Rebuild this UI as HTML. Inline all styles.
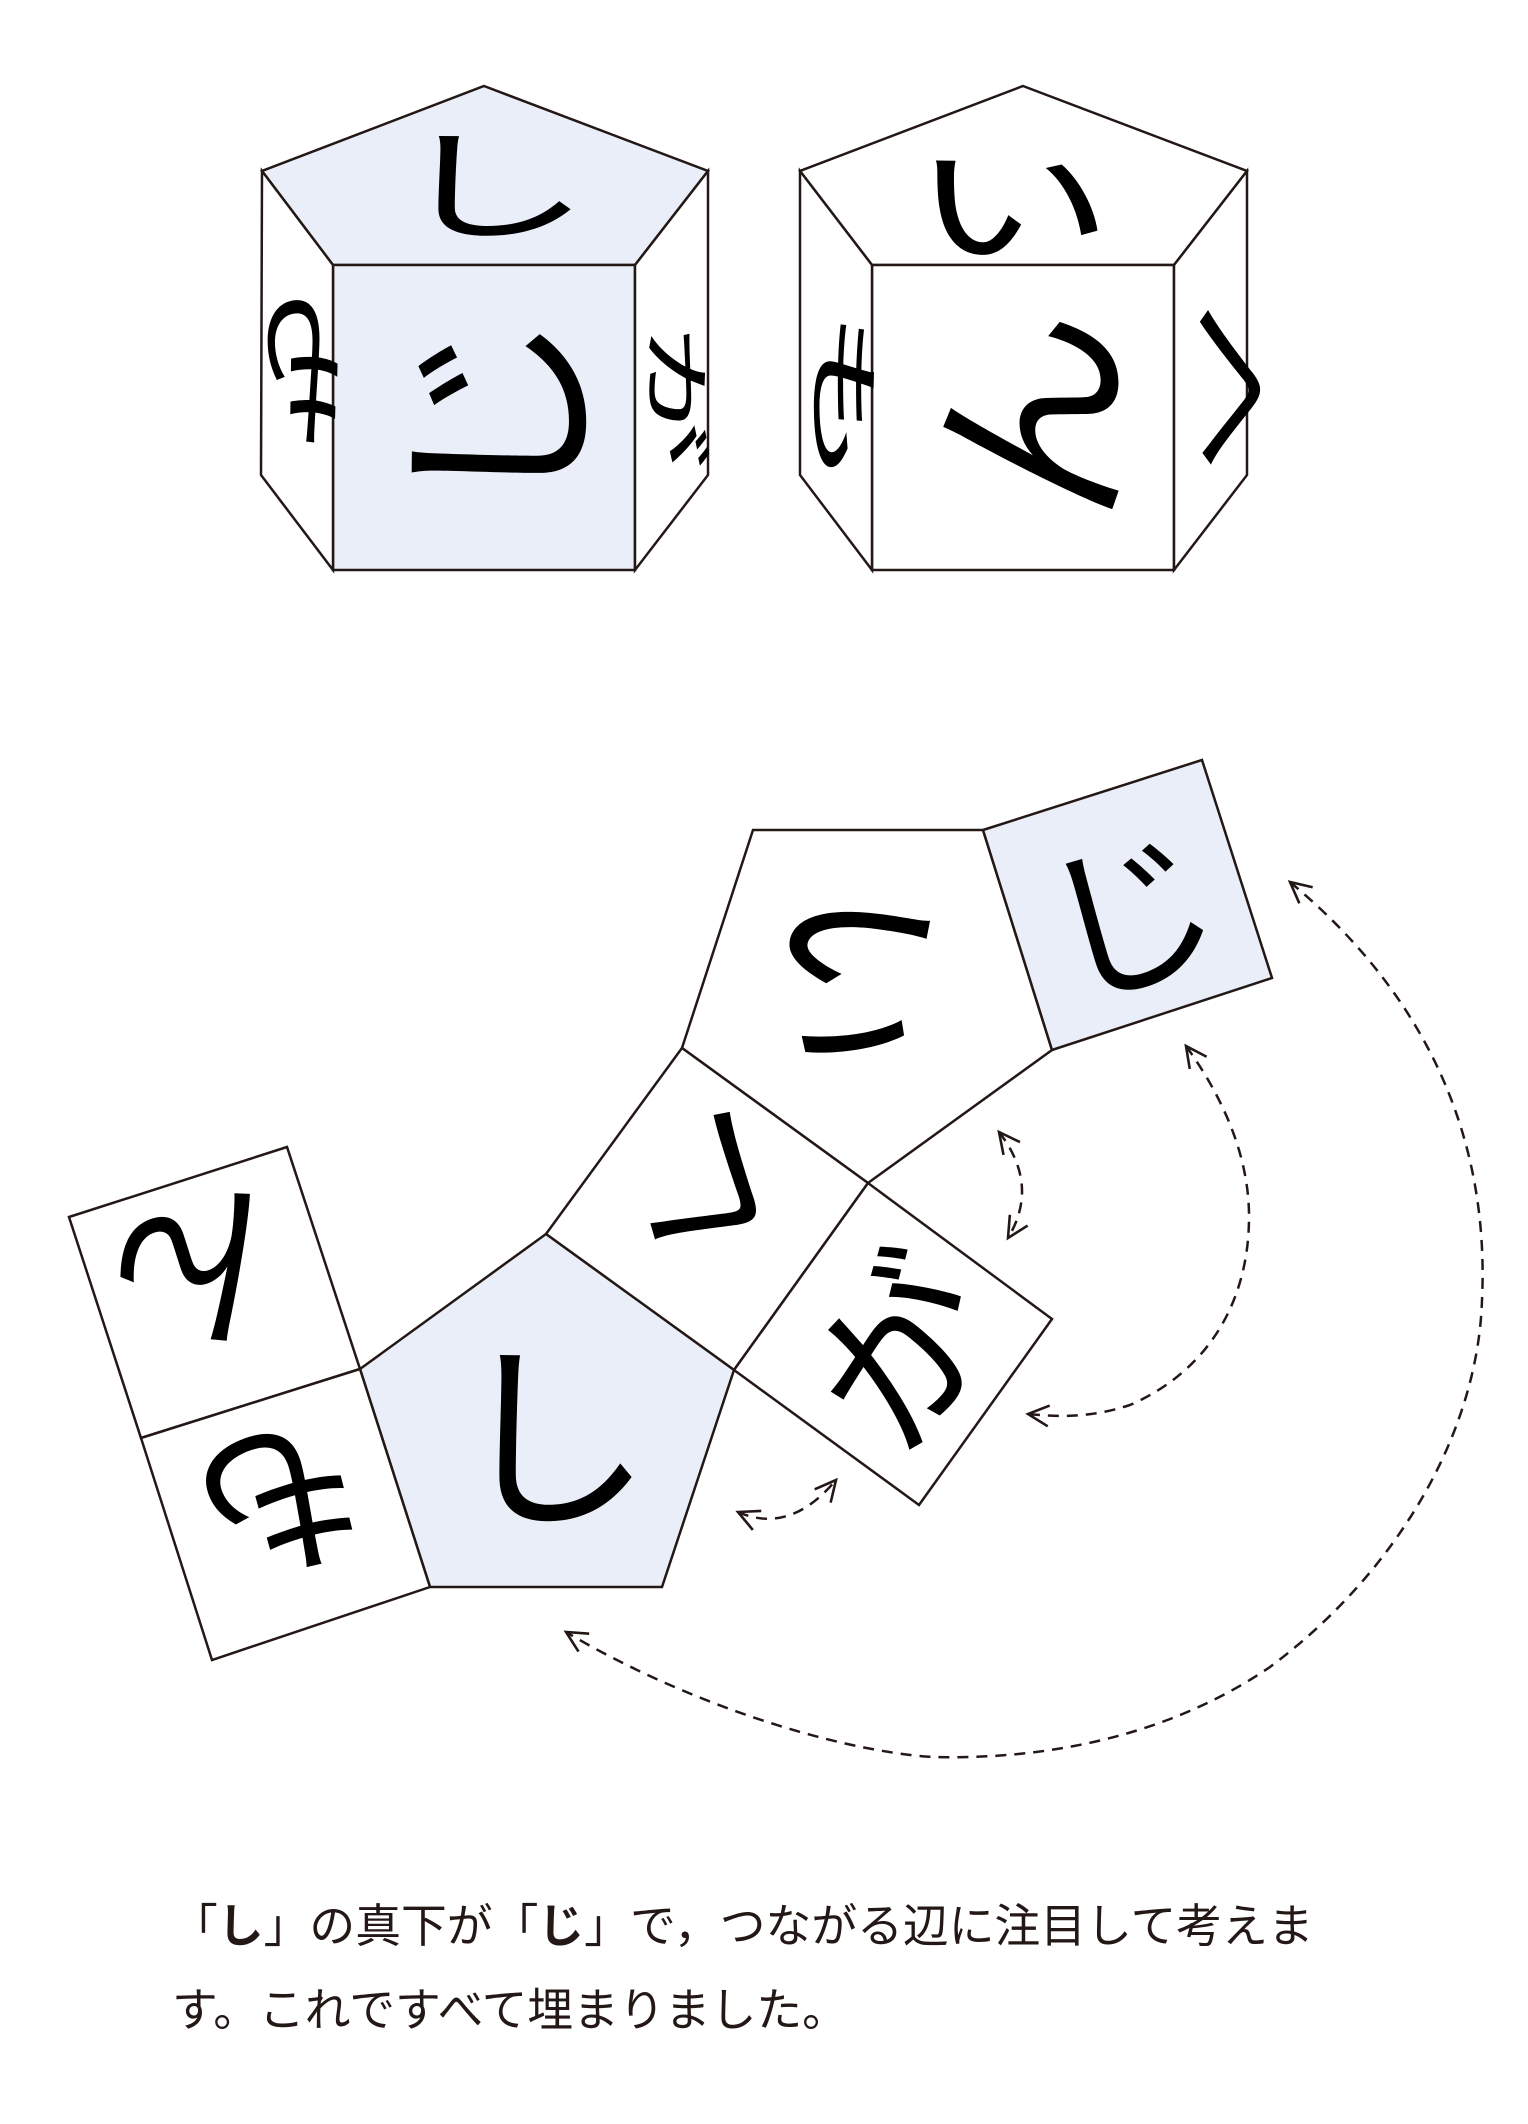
<!DOCTYPE html>
<html><head><meta charset="utf-8"><style>
html,body{margin:0;padding:0;background:#fff;}
body{width:1528px;height:2124px;position:relative;overflow:hidden;}
svg{position:absolute;left:0;top:0;}
.t{position:absolute;left:172px;font-family:"Liberation Sans","Noto Sans CJK JP",sans-serif;font-size:45.8px;line-height:60px;color:#231815;white-space:nowrap;}
</style></head><body>
<svg width="1528" height="2124" viewBox="0 0 1528 2124" xmlns="http://www.w3.org/2000/svg">
<defs>
<marker id="ah" viewBox="0 0 10 10" refX="9" refY="5" markerUnits="userSpaceOnUse" markerWidth="26" markerHeight="26" orient="auto-start-reverse">
<path d="M1,1 L9,5 L1,9" fill="none" stroke="#231815" stroke-width="1"/>
</marker>
</defs>
<g stroke="#231815" stroke-width="2.5" stroke-linejoin="miter" font-family="'Noto Sans CJK JP',sans-serif">
<polygon points="484,86 708,171 635,265 333,265 262,171" fill="#e9eef8"/>
<rect x="333" y="265" width="302" height="305" fill="#e9eef8"/>
<polygon points="262,171 333,265 333,570 261,475" fill="#fff"/>
<polygon points="708,171 635,265 635,570 708,475" fill="#fff"/>
<polygon points="1023,86 1247,171 1174,265 872,265 800,171" fill="#fff"/>
<rect x="872" y="265" width="302" height="305" fill="#fff"/>
<polygon points="800,171 872,265 872,570 800,475" fill="#fff"/>
<polygon points="1247,171 1174,265 1174,570 1247,475" fill="#fff"/>
<polygon points="753,830 983,830 1052,1050 868,1183 682,1048" fill="#fff"/>
<polygon points="983,830 1202,760 1272,978 1052,1050" fill="#e9eef8"/>
<polygon points="682,1048 868,1183 734,1370 546,1234" fill="#fff"/>
<polygon points="546,1234 734,1370 662,1587 430,1587 360,1369" fill="#e9eef8"/>
<polygon points="868,1183 1052,1319 919,1505 734,1370" fill="#fff"/>
<polygon points="69,1217 287,1147 360,1369 141,1438" fill="#fff"/>
<polygon points="141,1438 360,1369 430,1587 212,1660" fill="#fff"/>
</g>
<g fill="#000" font-family="'Noto Sans CJK JP',sans-serif" text-anchor="middle" dominant-baseline="central">
<text transform="translate(491,178) scale(1,0.6)" font-size="200">し</text>
<text transform="translate(483,415) rotate(-90)" font-size="210">じ</text>
<text transform="translate(301,381) scale(0.53,1) rotate(180)" font-size="170">も</text>
<text transform="translate(681,397) scale(0.47,1) rotate(90)" font-size="145">が</text>
<text transform="translate(1012,196) scale(1.1,0.72)" font-size="185">い</text>
<text transform="translate(1017,418) rotate(-90)" font-size="215">ん</text>
<text transform="translate(848,399) scale(0.39,1) rotate(90)" font-size="184">も</text>
<text transform="translate(1226,398) scale(0.65,1) rotate(180)" font-size="178">く</text>
<text transform="translate(1127,905) rotate(-17)" font-size="170">じ</text>
<text transform="translate(868,982) rotate(100)" font-size="190">い</text>
<text transform="translate(707,1198) rotate(-148)" font-size="170">く</text>
<text transform="translate(552,1424)" font-size="200">し</text>
<text transform="translate(895,1345) rotate(-52)" font-size="175">が</text>
<text transform="translate(203,1287) rotate(163)" font-size="170">ん</text>
<text transform="translate(280,1513) rotate(163)" font-size="170">も</text>
</g>
<g fill="none" stroke="#231815" stroke-width="2.5" stroke-dasharray="11 8" marker-start="url(#ah)" marker-end="url(#ah)">
<path d="M999,1132 Q1040,1185 1008,1238"/>
<path d="M1186,1046 C1225,1100 1250,1160 1249,1220 C1248,1300 1210,1370 1130,1405 C1090,1418 1060,1417 1028,1414"/>
<path d="M1290,882 C1420,990 1490,1130 1482,1300 C1478,1430 1400,1570 1270,1667 C1170,1735 1050,1760 932,1757 C830,1750 680,1700 566,1632"/>
<path d="M738,1512 Q790,1535 836,1480"/>
</g>
</svg>
<div class="t" style="top:1897px;">「<b>し</b>」の真下が「<b>じ</b>」で，つながる辺に注目して考えま</div>
<div class="t" style="top:1981px;">す。これですべて埋まりました。</div>
</body></html>
